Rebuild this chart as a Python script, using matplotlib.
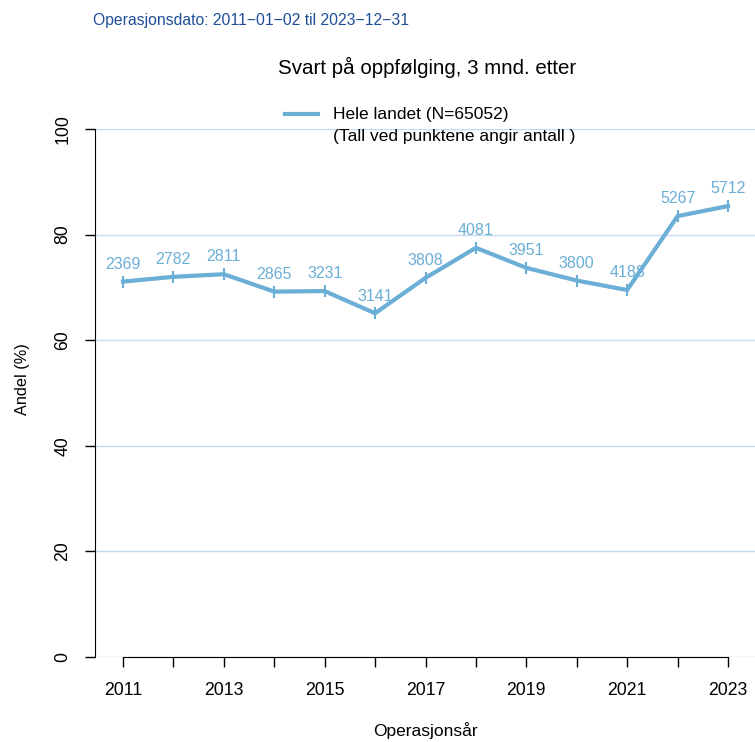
import matplotlib
matplotlib.use('Agg')
import matplotlib.pyplot as plt
import numpy as np

# data
years = [2011, 2012, 2013, 2014, 2015, 2016, 2017, 2018, 2019, 2020, 2021, 2022, 2023]
andel = [71.1, 72.0, 72.5, 69.2, 69.3, 65.1, 71.8, 77.5, 73.7, 71.3, 69.5, 83.5, 85.4]
antall = [2369, 2782, 2811, 2865, 3231, 3141, 3808, 4081, 3951, 3800, 4188, 5267, 5712]
yticks = [0, 20, 40, 60, 80, 100]
xticklabels = [2011, 2013, 2015, 2017, 2019, 2021, 2023]

LINE = '#6BAED6'
GRID = '#C6DBEF'
W, H = 755, 742

plt.rcParams['font.family'] = ['Liberation Sans', 'DejaVu Sans']

fig = plt.figure(figsize=(W / 100, H / 100), dpi=100)
# plot area in pixels: left 95, right 755, top 129, bottom 657
ax = fig.add_axes([95 / W, 1 - 657 / H, (755 - 95) / W, (657 - 129) / H])

ppy = (728 - 123) / 12.0
ax.set_xlim(2011 - 28 / ppy, 2023 + 27 / ppy)
ax.set_ylim(0, 100)

for yv in yticks:
    ax.axhline(yv, color=GRID, lw=1, zorder=0)

ax.plot(years, andel, color=LINE, lw=3, marker='|', ms=9, mew=1.5,
        solid_joinstyle='miter', zorder=3)
for x, y, n in zip(years, andel, antall):
    ax.annotate(str(n), (x, y), xytext=(0, 7), textcoords='offset points',
                ha='center', va='bottom', color=LINE, fontsize=11.5, zorder=4)

for s in ['top', 'right']:
    ax.spines[s].set_visible(False)
ax.spines['left'].set_bounds(0, 100)
ax.spines['bottom'].set_bounds(2011, 2023)

ax.set_xticks(years)
ax.set_xticklabels([str(y) if y in xticklabels else '' for y in years])
ax.set_yticks(yticks)
ax.set_yticklabels([str(v) for v in yticks], rotation=90, va='center')
ax.tick_params(axis='both', length=7, width=1, labelsize=12.7, direction='out')
ax.tick_params(axis='x', pad=11)
ax.tick_params(axis='y', pad=10)

fig.text(425 / W, 1 - 731 / H, 'Operasjonsår', fontsize=12.5,
         ha='center', va='center')
fig.text(22 / W, 1 - 379 / H, 'Andel (%)', fontsize=11.7, rotation=90,
         ha='center', va='center')

# legend drawn by hand, R style
fig.add_artist(plt.Line2D([285 / W, 318 / W], [1 - 114 / H, 1 - 114 / H],
                          color=LINE, lw=3))
fig.text(333 / W, 1 - 114 / H, 'Hele landet (N=65052)', fontsize=12.5,
         va='center', ha='left')
fig.text(333 / W, 1 - 137 / H, '(Tall ved punktene angir antall )', fontsize=12.5,
         va='center', ha='left')

fig.text(427 / W, 1 - 67 / H, 'Svart på oppfølging, 3 mnd. etter', fontsize=14.8,
         ha='center', va='center')
fig.text(93 / W, 1 - 21 / H, 'Operasjonsdato: 2011\u221201\u221202 til 2023\u221212\u221231',
         fontsize=11.3, color='#1F4E99', ha='left', va='center')

fig.savefig('out.png', dpi=100)
plt.close()
